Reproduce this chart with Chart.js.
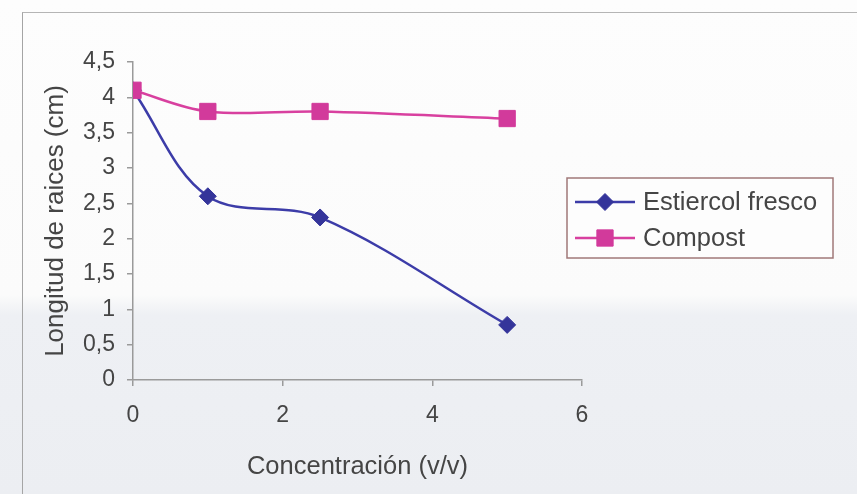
<!DOCTYPE html>
<html>
<head>
<meta charset="utf-8">
<script src="https://cdn.jsdelivr.net/npm/chart.js@4"></script>
<style>
  html, body { margin: 0; padding: 0; }
  body {
    width: 857px; height: 494px; overflow: hidden; position: relative;
    background: linear-gradient(to bottom, #fdfdfd 0px, #fbfbfb 295px, #eef0f4 315px, #eceef2 494px);
  }
  #frame {
    position: absolute; left: 22px; top: 12px; width: 835px; height: 482px;
    border-left: 1.5px solid #a5a5a5; border-top: 1.5px solid #b5b5b5;
    box-sizing: border-box; pointer-events: none;
  }
  #wrap { position: absolute; left: 0; top: 0; width: 857px; height: 494px; }
</style>
</head>
<body>
<div id="frame"></div>
<div id="wrap"><canvas id="c" width="857" height="494"></canvas></div>
<script>
const concentracion = [0, 1, 2.5, 5];
const estiercolFresco = [4.1, 2.6, 2.3, 0.78];
const compost = [4.1, 3.8, 3.8, 3.7];
const seriesNames = ['Estiercol fresco', 'Compost'];
const xTitle = 'Concentración (v/v)';
const yTitle = 'Longitud de raices (cm)';

const FONT = "'Liberation Sans', Arial, sans-serif";
const TEXT = '#454545';

const toPts = (xs, ys) => xs.map((x, i) => ({ x: x, y: ys[i] }));

const legendBox = {
  id: 'legendBox',
  afterDraw(chart) {
    const ctx = chart.ctx;
    const bx = 567, by = 178, bw = 266, bh = 80;
    ctx.save();
    ctx.fillStyle = '#fdfdfd';
    ctx.fillRect(bx, by, bw, bh);
    ctx.strokeStyle = '#a07878';
    ctx.lineWidth = 1.5;
    ctx.strokeRect(bx, by, bw, bh);
    const rows = [202, 238];
    chart.data.datasets.forEach((ds, i) => {
      const y = rows[i];
      ctx.strokeStyle = ds.borderColor;
      ctx.lineWidth = 2.5;
      ctx.beginPath(); ctx.moveTo(575, y); ctx.lineTo(635, y); ctx.stroke();
      ctx.fillStyle = ds.pointBackgroundColor;
      ctx.strokeStyle = ds.pointBorderColor;
      ctx.lineWidth = 1;
      ctx.beginPath();
      if (ds.pointStyle === 'rectRot') {
        const r = ds.pointRadius;
        ctx.moveTo(605 - r, y); ctx.lineTo(605, y - r); ctx.lineTo(605 + r, y); ctx.lineTo(605, y + r); ctx.closePath();
      } else {
        const s = ds.pointRadius * Math.SQRT1_2;
        ctx.rect(605 - s, y - s, 2 * s, 2 * s);
      }
      ctx.fill(); ctx.stroke();
      ctx.fillStyle = TEXT;
      ctx.font = '25.5px ' + FONT;
      ctx.textBaseline = 'middle';
      ctx.textAlign = 'left';
      ctx.fillText(ds.label, 643, y + 1);
    });
    ctx.restore();
  }
};

new Chart(document.getElementById('c'), {
  type: 'line',
  data: {
    datasets: [
      {
        label: seriesNames[0],
        data: toPts(concentracion, estiercolFresco),
        borderColor: '#3c3ca8',
        borderWidth: 2.5,
        pointStyle: 'rectRot',
        pointRadius: 8.5,
        pointBackgroundColor: '#34349a',
        pointBorderColor: '#34349a',
        pointBorderWidth: 1,
        tension: 0.35,
        order: 1
      },
      {
        label: seriesNames[1],
        data: toPts(concentracion, compost),
        borderColor: '#d8409f',
        borderWidth: 2.5,
        pointStyle: 'rect',
        pointRadius: 11.5,
        pointBackgroundColor: '#d23a9b',
        pointBorderColor: '#d23a9b',
        pointBorderWidth: 1,
        tension: 0.35,
        order: 0
      }
    ]
  },
  options: {
    responsive: false,
    animation: false,
    layout: { padding: { left: 36, top: 62, right: 275, bottom: 8 } },
    plugins: { legend: { display: false }, tooltip: { enabled: false } },
    scales: {
      x: {
        type: 'linear', min: 0, max: 6,
        ticks: { stepSize: 2, color: TEXT, font: { family: FONT, size: 23 }, padding: 16 },
        grid: { drawOnChartArea: false, tickLength: 6, color: '#9a9a9a', lineWidth: 1.5 },
        border: { color: '#9a9a9a', width: 1.5 },
        title: { display: true, text: xTitle, color: TEXT, font: { family: FONT, size: 25.5 }, padding: { top: 4, bottom: 4 } },
        afterFit(s) { s.height = 106; }
      },
      y: {
        type: 'linear', min: 0, max: 4.5,
        ticks: { stepSize: 0.5, color: TEXT, font: { family: FONT, size: 23 }, padding: 12,
          callback: v => String(v).replace('.', ',') },
        grid: { drawOnChartArea: false, tickLength: 6, color: '#9a9a9a', lineWidth: 1.5 },
        border: { color: '#9a9a9a', width: 1.5 },
        title: { display: true, text: yTitle, color: TEXT, font: { family: FONT, size: 26 }, padding: { top: 4, bottom: 4 } },
        afterFit(s) { s.width = 97; }
      }
    }
  },
  plugins: [legendBox]
});
</script>
</body>
</html>
